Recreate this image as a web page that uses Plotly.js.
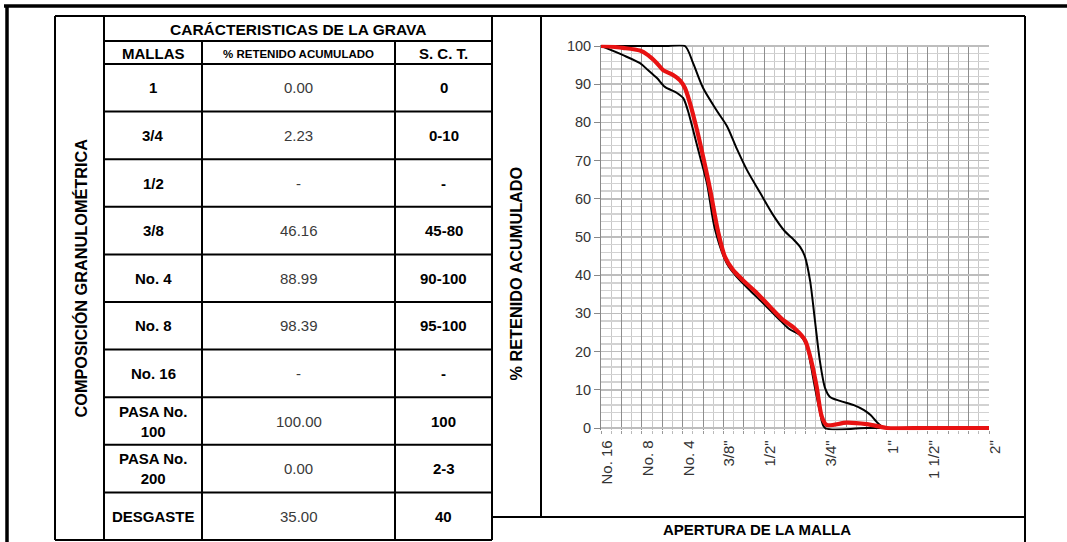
<!DOCTYPE html>
<html>
<head>
<meta charset="utf-8">
<script src="https://cdn.plot.ly/plotly-3.0.1.min.js"></script>
<style>html,body{margin:0;padding:0;background:#fff;}#chart{width:1067px;height:542px;}</style>
</head>
<body>
<div id="chart"></div>
<script>
// ---------- DATA ----------
const tablaTitulo = 'CARÁCTERISTICAS DE LA GRAVA';
const encabezados = ['MALLAS', '% RETENIDO ACUMULADO', 'S. C. T.'];
const mallas = ['1', '3/4', '1/2', '3/8', 'No. 4', 'No. 8', 'No. 16', 'PASA No.<br>100', 'PASA No.<br>200', 'DESGASTE'];
const retenido = ['0.00', '2.23', '-', '46.16', '88.99', '98.39', '-', '100.00', '0.00', '35.00'];
const sct = ['0', '0-10', '-', '45-80', '90-100', '95-100', '-', '100', '2-3', '40'];

const ejeEtiquetas = ['No. 16', 'No. 8', 'No. 4', '3/8"', '1/2"', '3/4"', '1"', '1 1/2"', '2"'];
const ejePos = [0, 2, 4, 6, 8, 11, 14, 16, 19];

// muestra (roja)
const muestraX = [0, 1.08, 1.91, 2.30, 2.74, 3.04, 3.53, 3.87, 4.11, 4.36, 4.70, 5.00, 5.34, 5.73, 6.07, 6.46, 6.95, 7.64, 8.28, 8.91, 9.50, 9.99, 10.32, 10.56, 10.81, 11.05, 12.03, 13.01, 13.66, 13.99, 16, 19];
const muestraY = [100, 99.5, 98.8, 97.6, 95.5, 93.7, 92.4, 91.0, 89.0, 85.0, 78.0, 71.0, 62.5, 51.5, 44.8, 41.4, 38.7, 35.3, 31.7, 28.3, 26.0, 23.0, 17.0, 10.8, 3.0, 0.8, 1.4, 1.0, 0.35, 0, 0, 0];

// limite inferior (negro izquierdo)
const limInfX = [0, 1.08, 1.91, 2.30, 2.74, 3.13, 3.72, 4.02, 4.26, 4.51, 4.85, 5.19, 5.58, 6.17, 6.66, 7.30, 7.93, 8.62, 9.20, 9.75, 10.08, 10.24, 10.48, 10.72, 10.97, 13, 19];
const limInfY = [100, 97.6, 95.5, 93.7, 91.6, 89.3, 87.7, 86.4, 83, 78, 71, 64, 52, 43, 39.5, 36, 32.7, 29, 26.0, 24.3, 21.5, 17.5, 10.5, 4.3, 0, 0, 0];

// limite superior (negro derecho)
const limSupX = [0, 2, 3.3, 4.11, 4.51, 5.00, 5.68, 6.17, 6.66, 7.15, 7.80, 8.40, 9.00, 9.40, 9.75, 9.99, 10.24, 10.48, 10.72, 10.97, 11.20, 11.70, 12.38, 12.88, 13.20, 13.50, 13.76, 13.93, 19];
const limSupY = [100, 100, 100, 100, 95.5, 89, 83, 79, 73, 67.5, 61.5, 56, 51.5, 49.5, 47.4, 44.8, 38.5, 28, 17.5, 10.5, 8.2, 7.1, 6.0, 4.7, 3.4, 1.6, 0.35, 0, 0];

// ---------- LAYOUT HELPERS ----------
const W = 1067, H = 542;
const FONT = 'Liberation Sans, Arial, sans-serif';
const px = x => x / W;
const py = y => 1 - y / H;

const shapes = [];
function seg(x0, y0, x1, y1, w, c) {
  shapes.push({type: 'line', xref: 'paper', yref: 'paper', x0: px(x0), y0: py(y0), x1: px(x1), y1: py(y1),
    line: {color: c || '#000', width: w || 2}, layer: 'above'});
}
const annotations = [];
function txt(text, x, y, size, bold, color, angle) {
  annotations.push({text: text, xref: 'paper', yref: 'paper', x: px(x), y: py(y), xanchor: 'center', yanchor: 'middle',
    showarrow: false, textangle: angle || 0,
    font: {family: FONT, size: size, color: color || '#000', weight: bold ? 700 : 400}});
}

// outer frame
seg(4, 6, 1067, 6, 3.5);
seg(7, 6, 7, 542, 3.5);

// table frame
const tL = 55, tC0 = 104, tC1 = 202, tC2 = 395, tR = 492, tTop = 16, tTitle = 41, tHead = 64, tBot = 540;
seg(tL, tTop, tR, tTop, 2);
seg(tL, tTop, tL, tBot, 2);
seg(tL, tBot, tR, tBot, 2);
seg(tR, tTop, tR, tBot, 2);
seg(tC0, tTop, tC0, tBot, 2);
seg(tC0, tTitle, tR, tTitle, 2);
seg(tC1, tTitle, tC1, tBot, 2);
seg(tC2, tTitle, tC2, tBot, 2);
const rowH = (tBot - tHead) / mallas.length;
for (let i = 0; i <= mallas.length; i++) {
  seg(tC0, tHead + i * rowH, tR, tHead + i * rowH, 2);
}

txt('COMPOSICIÓN GRANULOMÉTRICA', (tL + tC0) / 2 + 1, 278, 16.3, true, '#000', -90);
txt(tablaTitulo, (tC0 + tR) / 2, (tTop + tTitle) / 2 + 1, 15.5, true);
txt(encabezados[0], (tC0 + tC1) / 2, (tTitle + tHead) / 2 + 1, 15, true);
txt(encabezados[1], (tC1 + tC2) / 2, (tTitle + tHead) / 2 + 1, 11.5, true);
txt(encabezados[2], (tC2 + tR) / 2, (tTitle + tHead) / 2 + 1, 15, true);
for (let i = 0; i < mallas.length; i++) {
  const yc = tHead + (i + 0.5) * rowH;
  txt(mallas[i], (tC0 + tC1) / 2, yc, 15, true);
  txt(retenido[i], (tC1 + tC2) / 2, yc, 15, false, '#3a3a3a');
  txt(sct[i], (tC2 + tR) / 2, yc, 15, true);
}

// right panel frame
const gL = 492, gSep = 541, gR = 1025, gTop = 16, gFoot = 517, gBot = 542;
seg(gL, gTop, gR, gTop, 2);
seg(gR, gTop, gR, gBot, 2);
seg(gSep, gTop, gSep, gFoot, 2);
seg(gL, gFoot, gR, gFoot, 2);
txt('% RETENIDO ACUMULADO', (gL + gSep) / 2 - 1, 274, 16.3, true, '#000', -90);
txt('APERTURA DE LA MALLA', 757, (gFoot + gBot) / 2, 15, true);

// tick text (grid at every unit, labels only at sieve positions)
const tickVals = [], tickText = [];
for (let v = 0; v <= 19; v++) {
  tickVals.push(v);
  const k = ejePos.indexOf(v);
  tickText.push(k >= 0 ? ejeEtiquetas[k] : '');
}

// plot area in pixels
const pL = 601, pR = 989, y0px = 428, y100px = 46;
const upp = (y0px - y100px) / 100;
const yLo = -0.6, yHi = 100.3;

const traces = [
  {x: limInfX, y: limInfY, type: 'scatter', mode: 'lines', line: {color: '#000', width: 2, shape: 'spline', smoothing: 0.8}, hoverinfo: 'skip'},
  {x: limSupX, y: limSupY, type: 'scatter', mode: 'lines', line: {color: '#000', width: 2, shape: 'spline', smoothing: 0.8}, hoverinfo: 'skip'},
  {x: muestraX, y: muestraY, type: 'scatter', mode: 'lines', line: {color: 'rgb(232,18,18)', width: 4.2, shape: 'spline', smoothing: 0.8}, hoverinfo: 'skip'}
];

const layout = {
  width: W, height: H,
  margin: {l: 0, r: 0, t: 0, b: 0, pad: 0},
  paper_bgcolor: '#fff', plot_bgcolor: '#fff',
  showlegend: false,
  xaxis: {
    domain: [px(pL), px(pR)],
    range: [0, 19],
    tickmode: 'array', tickvals: tickVals, ticktext: tickText,
    tickangle: -90,
    ticks: 'outside', ticklen: 3, tickcolor: '#999', tickwidth: 1,
    ticklabelshift: 6,
    showgrid: true, gridcolor: '#8e8e8e', gridwidth: 1,
    minor: {tickmode: 'linear', tick0: 0, dtick: 0.5, showgrid: true, gridcolor: '#c8c8c8', gridwidth: 1, ticks: 'outside', ticklen: 3, tickcolor: '#bbb'},
    zeroline: false, showline: false,
    tickfont: {family: FONT, size: 15, color: '#333'},
    fixedrange: true
  },
  yaxis: {
    domain: [1 - (y0px - yLo * upp) / H, 1 - (y100px - (yHi - 100) * upp) / H],
    range: [yLo, yHi],
    tickmode: 'linear', tick0: 0, dtick: 10,
    ticks: 'outside', ticklen: 6, tickcolor: '#888', tickwidth: 1,
    showline: true, linecolor: '#888', linewidth: 1,
    showgrid: true, gridcolor: '#bdbdbd', gridwidth: 1.5,
    minor: {tickmode: 'linear', tick0: 0, dtick: 2, showgrid: true, gridcolor: '#d2d2d2', gridwidth: 1.5},
    zeroline: false,
    tickfont: {family: FONT, size: 14.5, color: '#333'},
    fixedrange: true
  },
  shapes: shapes,
  annotations: annotations
};

Plotly.newPlot('chart', traces, layout, {staticPlot: true, displayModeBar: false});
</script>
</body>
</html>
